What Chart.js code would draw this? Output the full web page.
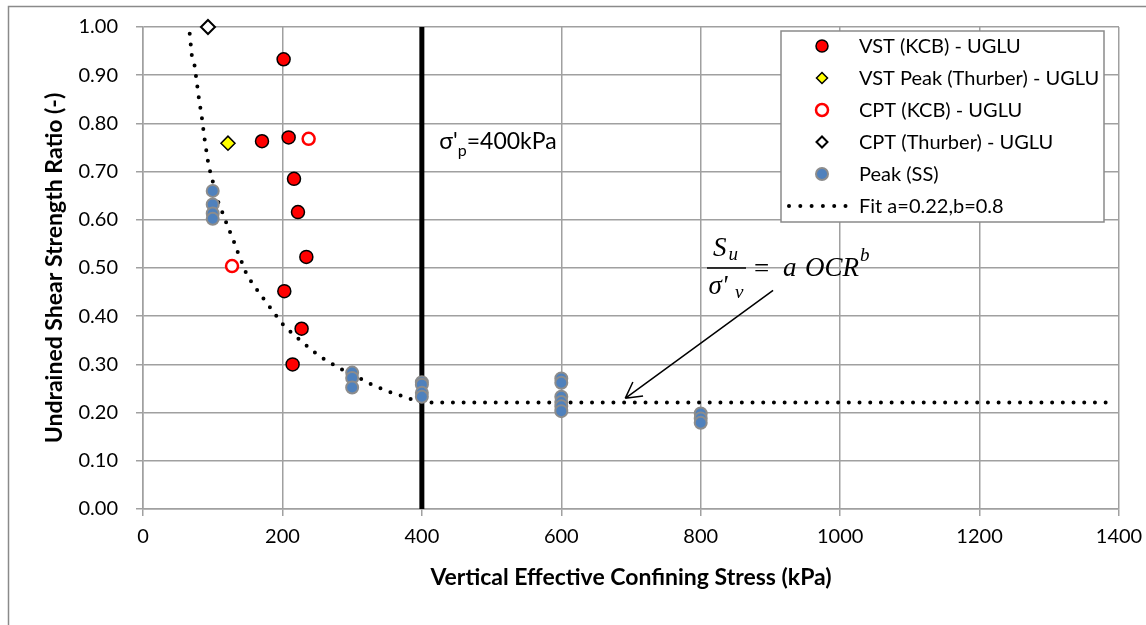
<!DOCTYPE html>
<html>
<head>
<meta charset="utf-8">
<script src="https://cdn.jsdelivr.net/npm/chart.js"></script>
<style>
  body { margin: 0; background: #fff; }
  #wrap { width: 1146px; height: 625px; position: relative; }
</style>
</head>
<body>
<div id="wrap"><canvas id="ratioChart"></canvas></div>
<script>
// axis ticks
const xTicks = [0, 200, 400, 600, 800, 1000, 1200, 1400];
const yTicks = [0, 0.1, 0.2, 0.3, 0.4, 0.5, 0.6, 0.7, 0.8, 0.9, 1.0];

// VST (KCB) - UGLU
const vstKcbX = [201.7, 170.7, 208.9, 216.6, 222.3, 234.3, 202.7, 227.5, 214.6];
const vstKcbY = [0.933, 0.763, 0.771, 0.685, 0.616, 0.523, 0.452, 0.374, 0.300];

// VST Peak (Thurber) - UGLU
const vstThurberX = [121.9];
const vstThurberY = [0.759];

// CPT (KCB) - UGLU
const cptKcbX = [237.6, 127.7];
const cptKcbY = [0.768, 0.504];

// CPT (Thurber) - UGLU
const cptThurberX = [93.2];
const cptThurberY = [1.00];

// Peak (SS)
const peakX = [100, 100, 100, 100, 300, 300, 300, 400, 400, 400, 400, 600, 600, 600, 600, 600, 600, 800, 800, 800];
const peakY = [0.660, 0.632, 0.613, 0.602, 0.283, 0.272, 0.252, 0.263, 0.258, 0.241, 0.233, 0.271, 0.262, 0.233, 0.222, 0.213, 0.203, 0.198, 0.188, 0.179];

// Fit a=0.22,b=0.8
const fitX = [67, 70, 74, 76, 80, 84.5, 88.3, 93, 96, 107.4, 113.2, 118.4, 124.1, 129.8, 134.7, 140.4, 146.1, 153.3, 161.9, 170.9, 179.9, 189.1, 198.1, 209.2, 220.6, 232.1, 243.6, 255.4, 268.3, 281.7, 308.9, 322.3, 336.7, 351, 365.3, 379.6, 400, 1390];
const fitY = [0.986, 0.941, 0.920, 0.898, 0.854, 0.811, 0.768, 0.723, 0.702, 0.639, 0.618, 0.598, 0.577, 0.557, 0.537, 0.517, 0.495, 0.476, 0.458, 0.440, 0.423, 0.405, 0.387, 0.371, 0.356, 0.342, 0.328, 0.315, 0.304, 0.292, 0.273, 0.262, 0.253, 0.244, 0.238, 0.230, 0.221, 0.221];

// preconsolidation line
const pcX = [400, 400];
const pcY = [0, 1];

// annotation anchors (data units)
const pcLabel = { x: 425, y: 0.746 };
const eqAnchor = { x: 809, y: 0.5 };
const arrowFrom = { x: 903.8, y: 0.4537 };
const arrowTo = { x: 691.7, y: 0.2296 };

const FONT = "Lato, 'Noto Sans', sans-serif";
const SERIF = "'Liberation Serif', 'DejaVu Serif', serif";
const GRID = '#a0a0a0';

const pts = (xs, ys) => xs.map((x, i) => ({ x: x, y: ys[i] }));

// draw a small marker for the legend
function drawMarker(c, ds, x, y) {
    c.save();
    c.lineWidth = ds.borderWidth;
    c.strokeStyle = ds.borderColor;
    c.fillStyle = ds.backgroundColor;
    c.beginPath();
    if (ds.pointStyle === 'rectRot') {
        const r = 5.5;
        c.moveTo(x - r, y); c.lineTo(x, y - r); c.lineTo(x + r, y); c.lineTo(x, y + r); c.closePath();
    } else {
        c.arc(x, y, 6, 0, Math.PI * 2);
    }
    c.fill();
    c.stroke();
    c.restore();
}

const extras = {
    id: 'extras',
    beforeDraw(chart) {
        const c = chart.ctx;
        c.save();
        c.fillStyle = '#fff';
        c.fillRect(0, 0, chart.width, chart.height);
        // outer chart border
        c.strokeStyle = '#8a8a8a';
        c.lineWidth = 1.5;
        c.strokeRect(8.5, 6.5, chart.width + 10, chart.height + 10);
        c.restore();
    },
    afterDraw(chart) {
        const c = chart.ctx;
        const xs = chart.scales.x, ys = chart.scales.y;
        const area = chart.chartArea;

        // legend box
        const lx = area.right - 338, ly = area.top + 4, lw = 323, lh = 191;
        c.save();
        c.fillStyle = '#fff';
        c.fillRect(lx, ly, lw, lh);
        c.strokeStyle = '#8a8a8a';
        c.lineWidth = 1.5;
        c.strokeRect(lx, ly, lw, lh);
        c.font = '20px ' + FONT;
        c.fillStyle = '#000';
        c.textBaseline = 'middle';
        chart.data.datasets.filter(d => d.label !== 'pc').forEach((ds, i) => {
            const ry = ly + 15 + i * 32;
            if (ds.showLine) {
                c.fillStyle = '#000';
                for (let k = 0; k < 6; k++) {
                    c.beginPath();
                    c.arc(lx + 8 + k * 11.3, ry, 2, 0, Math.PI * 2);
                    c.fill();
                }
            } else {
                drawMarker(c, ds, lx + 41, ry);
            }
            c.fillStyle = '#000';
            c.fillText(ds.label, lx + 78, ry + 1);
        });
        c.restore();

        // sigma'p label
        c.save();
        c.fillStyle = '#000';
        c.textBaseline = 'alphabetic';
        let px = xs.getPixelForValue(pcLabel.x), py = ys.getPixelForValue(pcLabel.y);
        c.font = '23px ' + FONT;
        c.fillText("σ'", px, py);
        px += c.measureText("σ'").width;
        c.font = '16px ' + FONT;
        c.fillText('p', px, py + 7);
        px += c.measureText('p').width;
        c.font = '23px ' + FONT;
        c.fillText('=400kPa', px, py);
        c.restore();

        // equation Su / sigma'v = a OCR^b
        const bx = xs.getPixelForValue(eqAnchor.x), by = ys.getPixelForValue(eqAnchor.y);
        c.save();
        c.fillStyle = '#000';
        c.strokeStyle = '#000';
        c.lineWidth = 1.6;
        c.beginPath();
        c.moveTo(bx, by); c.lineTo(bx + 39, by);
        c.stroke();
        c.font = 'italic 27px ' + SERIF;
        c.fillText('S', bx + 6, by - 12);
        c.fillText("σ'", bx + 1.5, by + 26);
        c.fillText('a', bx + 76, by + 8);
        c.fillText('OCR', bx + 98, by + 8);
        const ocrW = c.measureText('OCR').width;
        c.font = 'italic 19px ' + SERIF;
        c.fillText('u', bx + 21.5, by - 8);
        c.fillText('v', bx + 28, by + 30);
        c.fillText('b', bx + 98 + ocrW + 1, by - 7);
        c.font = '27px ' + SERIF;
        c.fillText('=', bx + 47, by + 9);

        // arrow
        const ax = xs.getPixelForValue(arrowFrom.x), ay = ys.getPixelForValue(arrowFrom.y);
        const tx = xs.getPixelForValue(arrowTo.x), ty = ys.getPixelForValue(arrowTo.y);
        c.lineWidth = 1.5;
        c.beginPath();
        c.moveTo(ax, ay); c.lineTo(tx, ty);
        const ang = Math.atan2(ay - ty, ax - tx);
        [0.5, -0.5].forEach(d => {
            c.moveTo(tx, ty);
            c.lineTo(tx + 18 * Math.cos(ang + d), ty + 18 * Math.sin(ang + d));
        });
        c.stroke();
        c.restore();
    }
};

const ctx = document.getElementById('ratioChart');

const ratioChart = new Chart(ctx, {
    type: 'scatter',
    data: {
        datasets: [{
            label: 'VST (KCB) - UGLU',
            data: pts(vstKcbX, vstKcbY),
            pointStyle: 'circle', pointRadius: 6.5,
            backgroundColor: '#ff0000', borderColor: '#000', borderWidth: 1.5,
            order: 2, clip: false
        }, {
            label: 'VST Peak (Thurber) - UGLU',
            data: pts(vstThurberX, vstThurberY),
            pointStyle: 'rectRot', pointRadius: 7,
            backgroundColor: '#ffff00', borderColor: '#000', borderWidth: 1.5,
            order: 2, clip: false
        }, {
            label: 'CPT (KCB) - UGLU',
            data: pts(cptKcbX, cptKcbY),
            pointStyle: 'circle', pointRadius: 6,
            backgroundColor: '#fff', borderColor: '#ff0000', borderWidth: 2.5,
            order: 2, clip: false
        }, {
            label: 'CPT (Thurber) - UGLU',
            data: pts(cptThurberX, cptThurberY),
            pointStyle: 'rectRot', pointRadius: 7,
            backgroundColor: '#fff', borderColor: '#000', borderWidth: 2,
            order: 2, clip: false
        }, {
            label: 'Peak (SS)',
            data: pts(peakX, peakY),
            pointStyle: 'circle', pointRadius: 6,
            backgroundColor: '#4f81bd', borderColor: '#8c8c8c', borderWidth: 2,
            order: 1, clip: false
        }, {
            label: 'Fit a=0.22,b=0.8',
            data: pts(fitX, fitY),
            showLine: true, pointRadius: 0,
            borderColor: '#000', borderWidth: 4,
            borderDash: [0, 10.7], borderCapStyle: 'round',
            order: 5
        }, {
            label: 'pc',
            data: pts(pcX, pcY),
            showLine: true, pointRadius: 0,
            borderColor: '#000', borderWidth: 5,
            order: 6
        }]
    },
    options: {
        responsive: true,
        maintainAspectRatio: false,
        animation: false,
        events: [],
        layout: { padding: { top: 27, right: 27, left: 0, bottom: 0 } },
        plugins: { legend: { display: false }, tooltip: { enabled: false } },
        scales: {
            x: {
                type: 'linear', min: 0, max: 1400,
                afterBuildTicks: s => { s.ticks = xTicks.map(v => ({ value: v })); },
                // fixed box size, no extra room for the end labels
                afterFit: s => { s.height = 116; s.paddingLeft = 0; s.paddingRight = 0; },
                grid: { color: GRID, lineWidth: 1.5, tickLength: 7 },
                border: { color: GRID, width: 1.5 },
                ticks: { color: '#000', font: { family: FONT, size: 20 }, padding: 9, maxRotation: 0, autoSkip: false, callback: v => String(v) },
                title: {
                    display: true, text: 'Vertical Effective Confining Stress (kPa)', color: '#000',
                    font: { family: FONT, size: 23, weight: 'bold' }, padding: { top: 0, bottom: 33.2 }
                }
            },
            y: {
                type: 'linear', min: 0, max: 1,
                afterBuildTicks: s => { s.ticks = yTicks.map(v => ({ value: v })); },
                afterFit: s => { s.width = 143; s.paddingTop = 0; s.paddingBottom = 0; },
                grid: { color: GRID, lineWidth: 1.5, tickLength: 7 },
                border: { color: GRID, width: 1.5 },
                ticks: { color: '#000', font: { family: FONT, size: 20 }, padding: 18, callback: v => Number(v).toFixed(2) },
                title: {
                    display: true, text: 'Undrained Shear Strength Ratio (-)', color: '#000',
                    font: { family: FONT, size: 23, weight: 'bold' }, padding: { top: 41.2, bottom: 0 }
                }
            }
        }
    },
    plugins: [extras]
});
</script>
</body>
</html>
